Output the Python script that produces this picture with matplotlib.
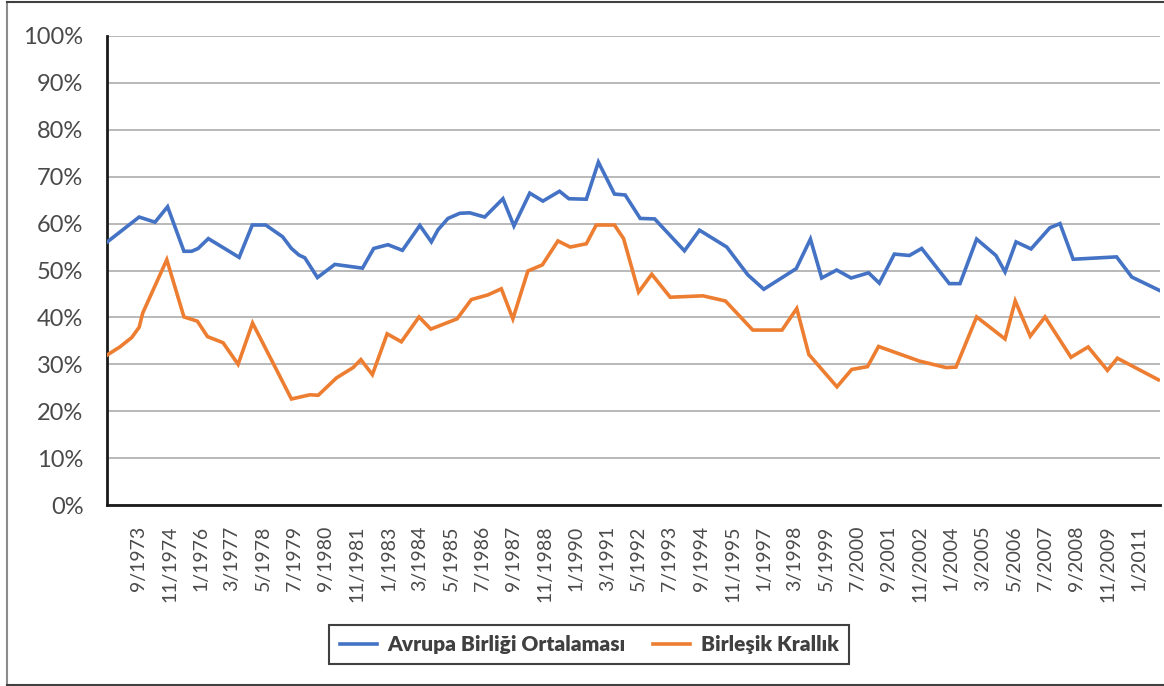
import matplotlib
matplotlib.use("Agg")
import matplotlib.pyplot as plt
from matplotlib.lines import Line2D

# ---- data (x in decimal years, values in %) ----
eu_x = [1972.51, 1973.70, 1974.29, 1974.76, 1975.37, 1975.66, 1975.90, 1976.28, 1977.43, 1977.92,
        1978.42, 1979.05, 1979.38, 1979.66, 1979.88, 1980.35, 1981.00, 1982.03, 1982.45, 1982.98,
        1983.52, 1984.17, 1984.60, 1984.85, 1985.22, 1985.66, 1986.03, 1986.59, 1987.27, 1987.68,
        1988.27, 1988.76, 1989.38, 1989.73, 1990.38, 1990.83, 1991.43, 1991.83, 1992.39, 1992.93,
        1994.04, 1994.60, 1995.62, 1996.40, 1997.00, 1998.21, 1998.74, 1999.16, 1999.72, 2000.26,
        2000.91, 2001.31, 2001.87, 2002.43, 2002.89, 2003.92, 2004.32, 2004.94, 2005.66, 2006.00,
        2006.41, 2006.97, 2007.67, 2008.05, 2008.54, 2010.16, 2010.73, 2011.78]
eu_vals = [56.1, 61.4, 60.3, 63.6, 54.1, 54.1, 54.7, 56.8, 52.8, 59.7,
           59.7, 57.2, 54.7, 53.3, 52.7, 48.5, 51.3, 50.5, 54.7, 55.5,
           54.3, 59.6, 56.1, 58.7, 61.1, 62.2, 62.3, 61.4, 65.3, 59.5,
           66.5, 64.8, 66.9, 65.3, 65.2, 73.1, 66.3, 66.1, 61.1, 61.0,
           54.2, 58.6, 55.0, 49.1, 46.0, 50.4, 56.7, 48.4, 50.1, 48.4,
           49.5, 47.3, 53.5, 53.2, 54.7, 47.2, 47.2, 56.7, 53.2, 49.7,
           56.1, 54.6, 59.1, 60.0, 52.4, 52.9, 48.6, 45.7]

uk_x = [1972.51, 1972.98, 1973.42, 1973.70, 1973.83, 1974.73, 1975.37, 1975.87, 1976.25, 1976.83,
        1977.39, 1977.93, 1979.38, 1980.07, 1980.38, 1981.06, 1981.68, 1981.97, 1982.40, 1982.95,
        1983.48, 1984.14, 1984.58, 1985.56, 1986.09, 1986.71, 1987.21, 1987.64, 1988.20, 1988.74,
        1989.32, 1989.78, 1990.38, 1990.75, 1991.43, 1991.77, 1992.33, 1992.82, 1993.51, 1994.73,
        1995.57, 1996.59, 1997.68, 1998.23, 1998.68, 1999.73, 2000.28, 2000.87, 2001.28, 2002.80,
        2003.80, 2004.17, 2004.94, 2006.00, 2006.38, 2006.94, 2007.49, 2008.46, 2009.10, 2009.82,
        2010.19, 2011.72]
uk_vals = [32.0, 33.7, 35.7, 37.9, 40.9, 52.3, 40.1, 39.2, 35.9, 34.6,
           30.0, 38.8, 22.6, 23.5, 23.4, 27.1, 29.3, 31.0, 27.8, 36.5,
           34.8, 40.1, 37.5, 39.7, 43.8, 44.8, 46.1, 39.7, 49.9, 51.2,
           56.3, 55.0, 55.7, 59.7, 59.7, 56.8, 45.4, 49.2, 44.3, 44.6,
           43.5, 37.3, 37.3, 41.9, 32.1, 25.2, 28.9, 29.5, 33.8, 30.7,
           29.3, 29.4, 40.1, 35.4, 43.5, 36.0, 40.1, 31.5, 33.7, 28.7,
           31.3, 26.7]

series_names = ["Avrupa Birliği Ortalaması", "Birleşik Krallık"]
x_tick_labels = ["9/1973", "11/1974", "1/1976", "3/1977", "5/1978", "7/1979", "9/1980", "11/1981",
                 "1/1983", "3/1984", "5/1985", "7/1986", "9/1987", "11/1988", "1/1990", "3/1991",
                 "5/1992", "7/1993", "9/1994", "11/1995", "1/1997", "3/1998", "5/1999", "7/2000",
                 "9/2001", "11/2002", "1/2004", "3/2005", "5/2006", "7/2007", "9/2008", "11/2009",
                 "1/2011"]
y_ticks = list(range(0, 101, 10))

# ---- figure ----
W, H = 1164, 686
fig = plt.figure(figsize=(W / 100, H / 100), dpi=100)
ax = fig.add_axes([107 / W, 1 - 505 / H, (1160 - 107) / W, (505 - 36) / H])

blue = "#4472C4"
orange = "#ED7D31"
ax.plot(eu_x, eu_vals, color=blue, lw=2.6, solid_joinstyle="miter", zorder=3)
ax.plot(uk_x, uk_vals, color=orange, lw=2.6, solid_joinstyle="miter", zorder=3)

ax.set_xlim(1972.5, 2011.78)
ax.set_ylim(0, 100)

ax.set_yticks(y_ticks)
ax.set_yticklabels([f"{v}%" for v in y_ticks], fontsize=17, color="#4a4a4a", family="Lato")
ax.yaxis.grid(True, color="#a6a6a6", lw=1.1)
ax.set_axisbelow(True)

tick_pos = [int(s.split("/")[1]) + (int(s.split("/")[0]) - 1) / 12 for s in x_tick_labels]
ax.set_xticks(tick_pos)
ax.set_xticklabels(x_tick_labels, rotation=90, fontsize=14, color="#4a4a4a", family="Lato",
                   ha="center", va="top")
ax.tick_params(axis="both", length=0)
ax.tick_params(axis="x", pad=15)
ax.tick_params(axis="y", pad=17)

for s in ["top", "right"]:
    ax.spines[s].set_visible(False)
for s in ["left", "bottom"]:
    ax.spines[s].set_color("#1a1a1a")
    ax.spines[s].set_linewidth(2)

# outer chart border
fig.add_artist(Line2D([6.5 / W, 6.5 / W], [1 - 1.5 / H, 1 - 685 / H], transform=fig.transFigure,
                      color="#8c8c8c", lw=1.5))
fig.add_artist(Line2D([6.5 / W, 1], [1 - 1.5 / H, 1 - 1.5 / H], transform=fig.transFigure,
                      color="#404040", lw=1.5))
fig.add_artist(Line2D([6.5 / W, 1], [1 - 685 / H, 1 - 685 / H], transform=fig.transFigure,
                      color="#404040", lw=1.5))

handles = [Line2D([], [], color=blue, lw=2.6), Line2D([], [], color=orange, lw=2.6)]
leg = fig.legend(handles, series_names, loc="center", bbox_to_anchor=(589 / W, 1 - 644.5 / H),
                 ncol=2, frameon=True, fancybox=False, edgecolor="#404040", framealpha=1,
                 handlelength=1.8, columnspacing=1.3, handletextpad=0.5, borderpad=0.5,
                 prop={"family": "Lato", "weight": "heavy", "size": 15})
leg.get_frame().set_linewidth(1.5)
for t in leg.get_texts():
    t.set_color("#404040")

fig.savefig("out.png", dpi=100)
